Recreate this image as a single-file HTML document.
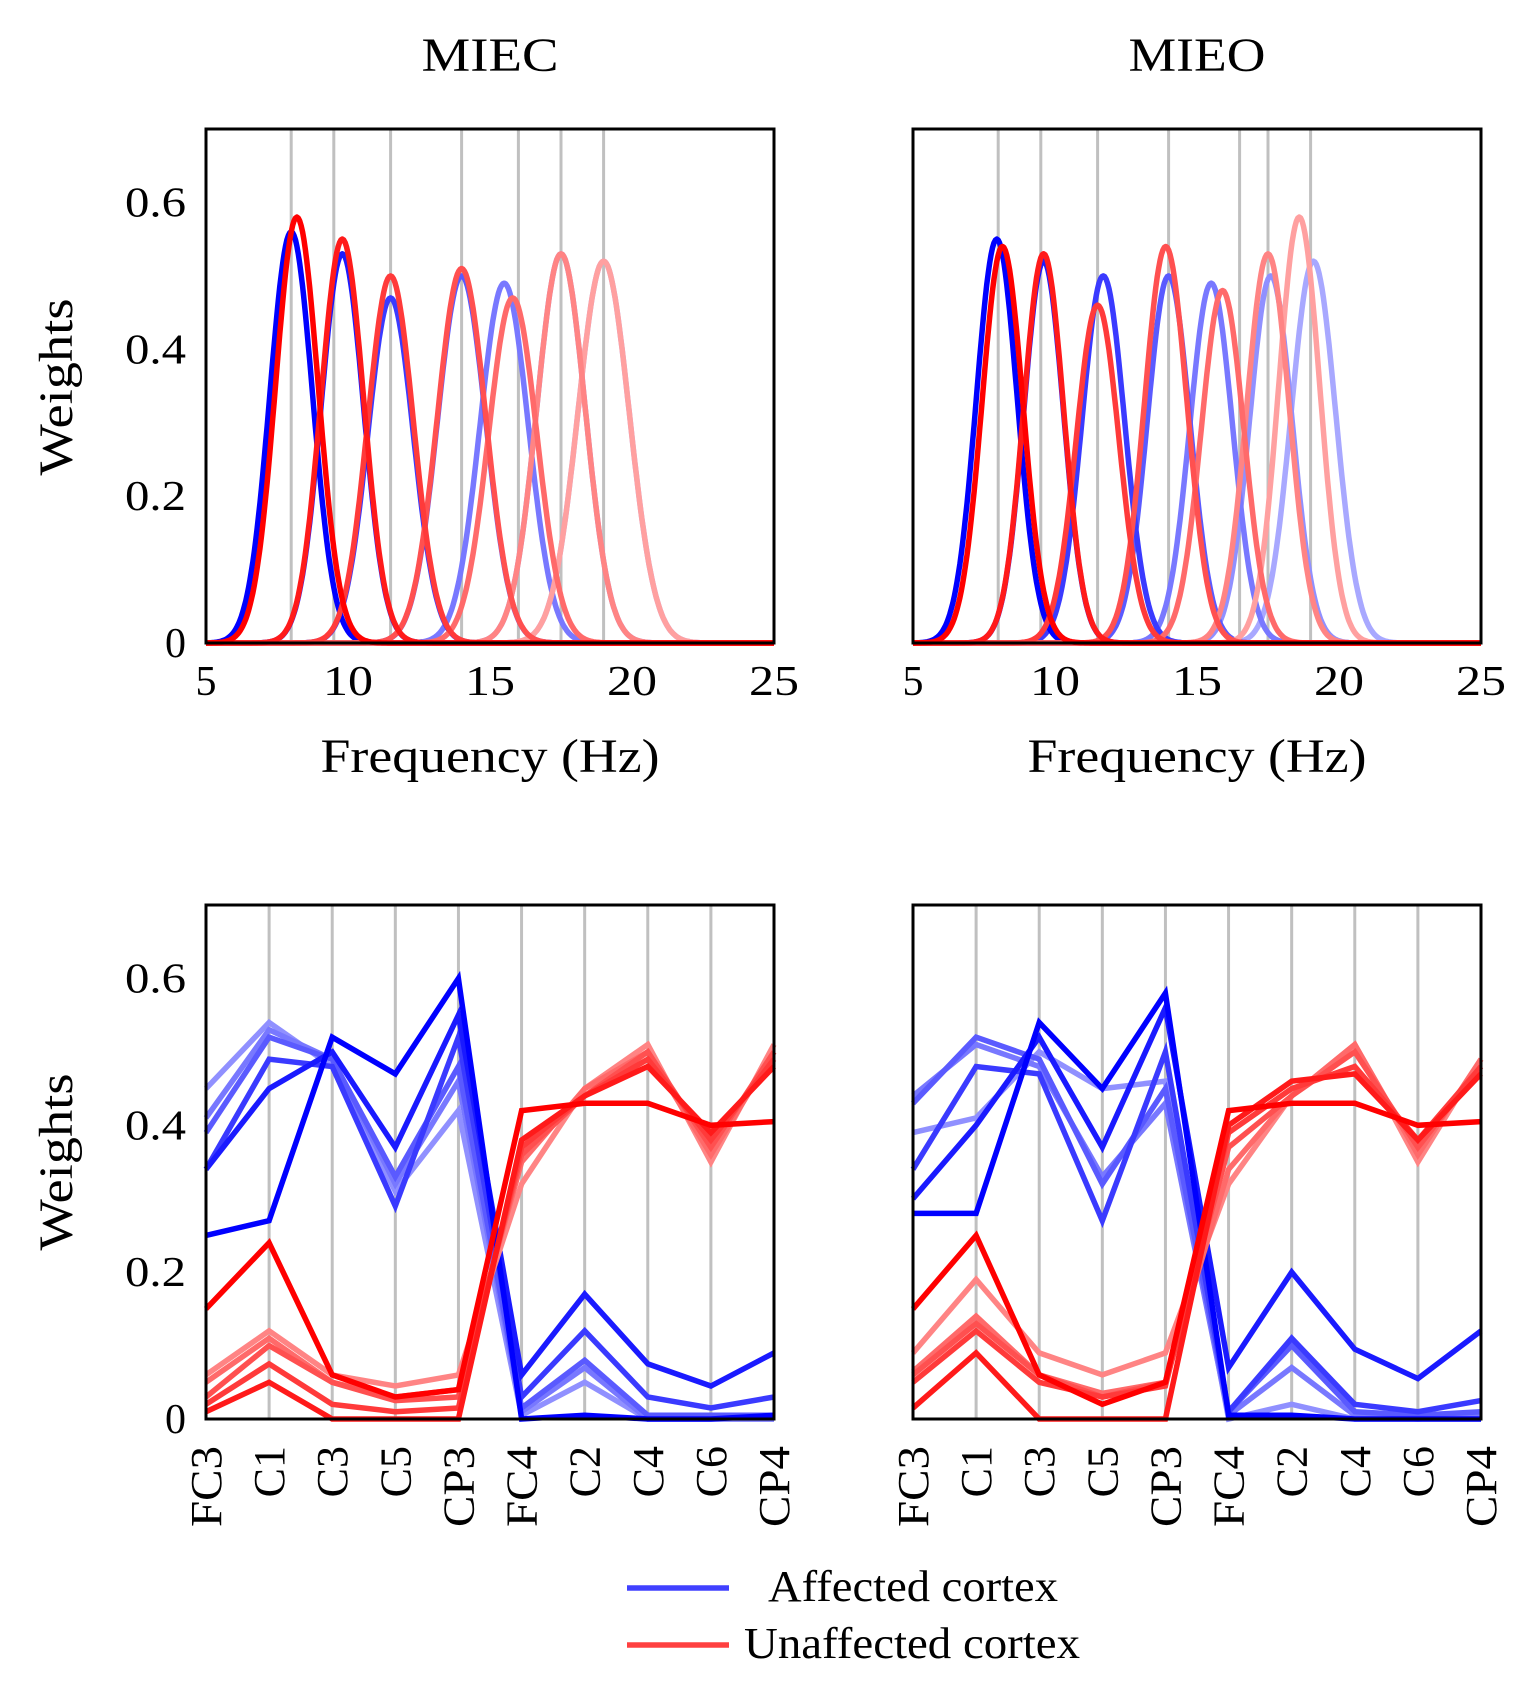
<!DOCTYPE html>
<html><head><meta charset="utf-8"><style>
html,body{margin:0;padding:0;background:#fff;}
svg{display:block;font-family:"Liberation Serif",serif;}
</style></head><body>
<svg id="chart" width="1528" height="1684" viewBox="0 0 1528 1684"></svg>
<script>
// ---- data ----
const freqTicks = [5,10,15,20,25];
const yTicks = [0,0.2,0.4,0.6];
const yTickLabels = ["0","0.2","0.4","0.6"];
const channels = ["FC3","C1","C3","C5","CP3","FC4","C2","C4","C6","CP4"];
const miecGrid = [8,9.5,11.5,14,16,17.5,19];
const mieoGrid = [8,9.5,11.5,14,16.5,17.5,19];
// filters: center (Hz), peak, sigma
const miecBlueCenters = [8.0,9.8,11.5,14.0,15.5,17.5,19.0];
const miecBluePeaks   = [0.56,0.53,0.47,0.50,0.49,0.53,0.52];
const miecBlueSigmas  = [0.75,0.75,0.8,0.85,0.85,0.85,0.9];
const miecRedCenters  = [8.2,9.8,11.5,14.0,15.8,17.5,19.0];
const miecRedPeaks    = [0.58,0.55,0.50,0.51,0.47,0.53,0.52];
const miecRedSigmas   = [0.75,0.75,0.8,0.85,0.85,0.85,0.9];
const mieoBlueCenters = [7.95,9.6,11.7,14.0,15.5,17.6,19.1];
const mieoBluePeaks   = [0.55,0.52,0.50,0.50,0.49,0.50,0.52];
const mieoBlueSigmas  = [0.72,0.7,0.75,0.75,0.75,0.75,0.78];
const mieoRedCenters  = [8.15,9.6,11.5,13.9,15.9,17.5,18.6];
const mieoRedPeaks    = [0.54,0.53,0.46,0.54,0.48,0.53,0.58];
const mieoRedSigmas   = [0.72,0.7,0.75,0.75,0.75,0.75,0.72];
// spatial weights
const miecBlue = [
 [0.25,0.27,0.52,0.47,0.60,0.0,0.005,0.0,0.0,0.005],
 [0.34,0.45,0.50,0.37,0.55,0.06,0.17,0.075,0.045,0.09],
 [0.34,0.49,0.48,0.29,0.52,0.03,0.12,0.03,0.015,0.03],
 [0.39,0.52,0.49,0.33,0.48,0.015,0.08,0.005,0.005,0.005],
 [0.41,0.53,0.49,0.32,0.46,0.01,0.07,0.0,0.0,0.0],
 [0.45,0.54,0.48,0.31,0.42,0.005,0.05,0.0,0.0,0.0]];
const miecRed = [
 [0.15,0.24,0.06,0.03,0.04,0.42,0.43,0.43,0.40,0.405],
 [0.01,0.05,0.0,0.0,0.0,0.38,0.44,0.48,0.39,0.48],
 [0.02,0.075,0.02,0.01,0.015,0.37,0.44,0.49,0.38,0.49],
 [0.03,0.10,0.05,0.025,0.03,0.36,0.44,0.50,0.37,0.50],
 [0.05,0.11,0.05,0.03,0.04,0.35,0.45,0.50,0.36,0.50],
 [0.06,0.12,0.06,0.045,0.06,0.32,0.45,0.51,0.35,0.51]];
const mieoBlue = [
 [0.28,0.28,0.54,0.45,0.58,0.005,0.005,0.0,0.0,0.0],
 [0.30,0.40,0.52,0.37,0.56,0.07,0.20,0.095,0.055,0.12],
 [0.34,0.48,0.47,0.27,0.50,0.01,0.11,0.02,0.01,0.025],
 [0.43,0.52,0.49,0.32,0.45,0.01,0.10,0.01,0.005,0.01],
 [0.44,0.51,0.48,0.33,0.43,0.005,0.07,0.005,0.0,0.005],
 [0.39,0.41,0.50,0.45,0.46,0.0,0.02,0.0,0.0,0.0]];
const mieoRed = [
 [0.15,0.25,0.06,0.02,0.05,0.42,0.43,0.43,0.40,0.405],
 [0.015,0.09,0.0,0.0,0.0,0.40,0.46,0.47,0.38,0.47],
 [0.05,0.12,0.05,0.03,0.045,0.39,0.45,0.48,0.38,0.48],
 [0.06,0.13,0.06,0.03,0.05,0.37,0.44,0.50,0.37,0.48],
 [0.065,0.14,0.06,0.035,0.05,0.34,0.44,0.51,0.36,0.49],
 [0.09,0.19,0.09,0.06,0.09,0.32,0.44,0.51,0.35,0.49]];

const blueShades = ["#0000ff","#1a1aff","#3a3aff","#5a5aff","#7878ff","#9090ff","#a8a8ff"];
const redShades  = ["#ff0000","#ff1a1a","#ff3a3a","#ff5050","#ff6a6a","#ff8484","#ffa0a0"];

const NS="http://www.w3.org/2000/svg";
const svg=document.getElementById('chart');
function mk(tag,attrs,parent){const e=document.createElementNS(NS,tag);for(const k in attrs)e.setAttribute(k,attrs[k]);(parent||svg).appendChild(e);return e;}
function txt(s,attrs,parent){const e=mk('text',attrs,parent);e.textContent=s;return e;}

const PX={l:[206,774],r:[913,1481]};
const PY={t:[129,643],b:[905,1419]};
const YMAX=0.7;
const LW=5.5;

function yScale(py){return v=>py[1]-v/YMAX*(py[1]-py[0]);}

function axesY(g,px,py,showLabels){
  const ys=yScale(py);
  if(!showLabels)return;
  yTicks.forEach((t,i)=>{
    const a={x:px[0]-20,y:ys(t)+14,'font-size':42,'text-anchor':'end'};
    if(yTickLabels[i].length>1){a.textLength=61;a.lengthAdjust='spacingAndGlyphs';}
    const e=txt(yTickLabels[i],a,g);
    
    
  });
}

function freqPanel(name,px,py,grid,bc,bp,bs,rc,rp,rs,showY){
  const g=mk('g',{});
  
  
  const xs=f=>px[0]+(f-5)/20*(px[1]-px[0]);
  const ys=yScale(py);
  grid.forEach(f=>{const l=mk('line',{x1:xs(f),x2:xs(f),y1:py[0],y2:py[1],stroke:'#c0c0c0','stroke-width':3},g);
    });
  function curve(c,p,s,col,nm){
    let d='';
    for(let f=5;f<=25.001;f+=0.05){const v=p*Math.exp(-0.5*((f-c)/s)**2);d+=(d?'L':'M')+xs(f).toFixed(1)+','+ys(v).toFixed(1);}
    const e=mk('path',{d:d,fill:'none',stroke:col,'stroke-width':LW,'stroke-linejoin':'round'},g);
    
  }
  for(let i=bc.length-1;i>=0;i--){curve(bc[i],bp[i],bs[i],blueShades[i],'affected-filter-curve');}
  for(let i=rc.length-1;i>=0;i--){curve(rc[i],rp[i],rs[i],redShades[i],'unaffected-filter-curve');}
  const fr=mk('rect',{x:px[0],y:py[0],width:px[1]-px[0],height:py[1]-py[0],fill:'none',stroke:'#000','stroke-width':3},g);
  
  freqTicks.forEach(t=>{const a={x:xs(t),y:695,'font-size':42,'text-anchor':'middle'};
    if(t>=10){a.textLength=50;a.lengthAdjust='spacingAndGlyphs';}
    const e=txt(String(t),a,g);
    });
  const xl=txt('Frequency (Hz)',{x:(px[0]+px[1])/2,y:772,'font-size':48,'text-anchor':'middle',textLength:339,lengthAdjust:'spacingAndGlyphs'},g);
  
  axesY(g,px,py,showY);
}

function chanPanel(name,px,py,blue,red,showY){
  const g=mk('g',{});
  
  
  const xs=i=>px[0]+i/(channels.length-1)*(px[1]-px[0]);
  const ys=yScale(py);
  channels.forEach((c,i)=>{
    if(i>0&&i<channels.length-1){const l=mk('line',{x1:xs(i),x2:xs(i),y1:py[0],y2:py[1],stroke:'#c0c0c0','stroke-width':3},g);
      }
    const a={x:0,y:0,'font-size':44,'text-anchor':'end',transform:`translate(${xs(i)+15},1446) rotate(-90)`};
    if(c.length===3){a.textLength=81;a.lengthAdjust='spacingAndGlyphs';}
    const t=txt(c,a,g);
    
  });
  function series(vals,col,nm){
    const d=vals.map((v,i)=>(i?'L':'M')+xs(i).toFixed(1)+','+ys(v).toFixed(1)).join('');
    const e=mk('path',{d:d,fill:'none',stroke:col,'stroke-width':LW,'stroke-linejoin':'miter'},g);
    
  }
  for(let i=blue.length-1;i>=0;i--)series(blue[i],blueShades[i],'affected-weights-line');
  for(let i=red.length-1;i>=0;i--)series(red[i],redShades[i],'unaffected-weights-line');
  const fr=mk('rect',{x:px[0],y:py[0],width:px[1]-px[0],height:py[1]-py[0],fill:'none',stroke:'#000','stroke-width':3},g);
  
  axesY(g,px,py,showY);
}

freqPanel('miec',PX.l,PY.t,miecGrid,miecBlueCenters,miecBluePeaks,miecBlueSigmas,miecRedCenters,miecRedPeaks,miecRedSigmas,true);
freqPanel('mieo',PX.r,PY.t,mieoGrid,mieoBlueCenters,mieoBluePeaks,mieoBlueSigmas,mieoRedCenters,mieoRedPeaks,mieoRedSigmas,false);
chanPanel('miec',PX.l,PY.b,miecBlue,miecRed,true);
chanPanel('mieo',PX.r,PY.b,mieoBlue,mieoRed,false);

[['MIEC',490],['MIEO',1197]].forEach(([s,x])=>{const e=txt(s,{x:x,y:71,'font-size':48,'text-anchor':'middle',textLength:137,lengthAdjust:'spacingAndGlyphs'});
  });
[387,1162].forEach(cy=>{const e=txt('Weights',{x:0,y:0,'font-size':48,'text-anchor':'middle',textLength:177,lengthAdjust:'spacingAndGlyphs',transform:`translate(72,${cy}) rotate(-90)`});
  });

const lg=mk('g',{});


const l1=mk('line',{x1:627,x2:729,y1:1588,y2:1588,stroke:'#4040ff','stroke-width':LW},lg);

const t1=txt('Affected cortex',{x:768,y:1601,'font-size':44,textLength:290,lengthAdjust:'spacingAndGlyphs'},lg);

const l2=mk('line',{x1:627,x2:729,y1:1645,y2:1645,stroke:'#ff4040','stroke-width':LW},lg);

const t2=txt('Unaffected cortex',{x:744,y:1658,'font-size':44,textLength:336,lengthAdjust:'spacingAndGlyphs'},lg);

</script>
</body></html>
